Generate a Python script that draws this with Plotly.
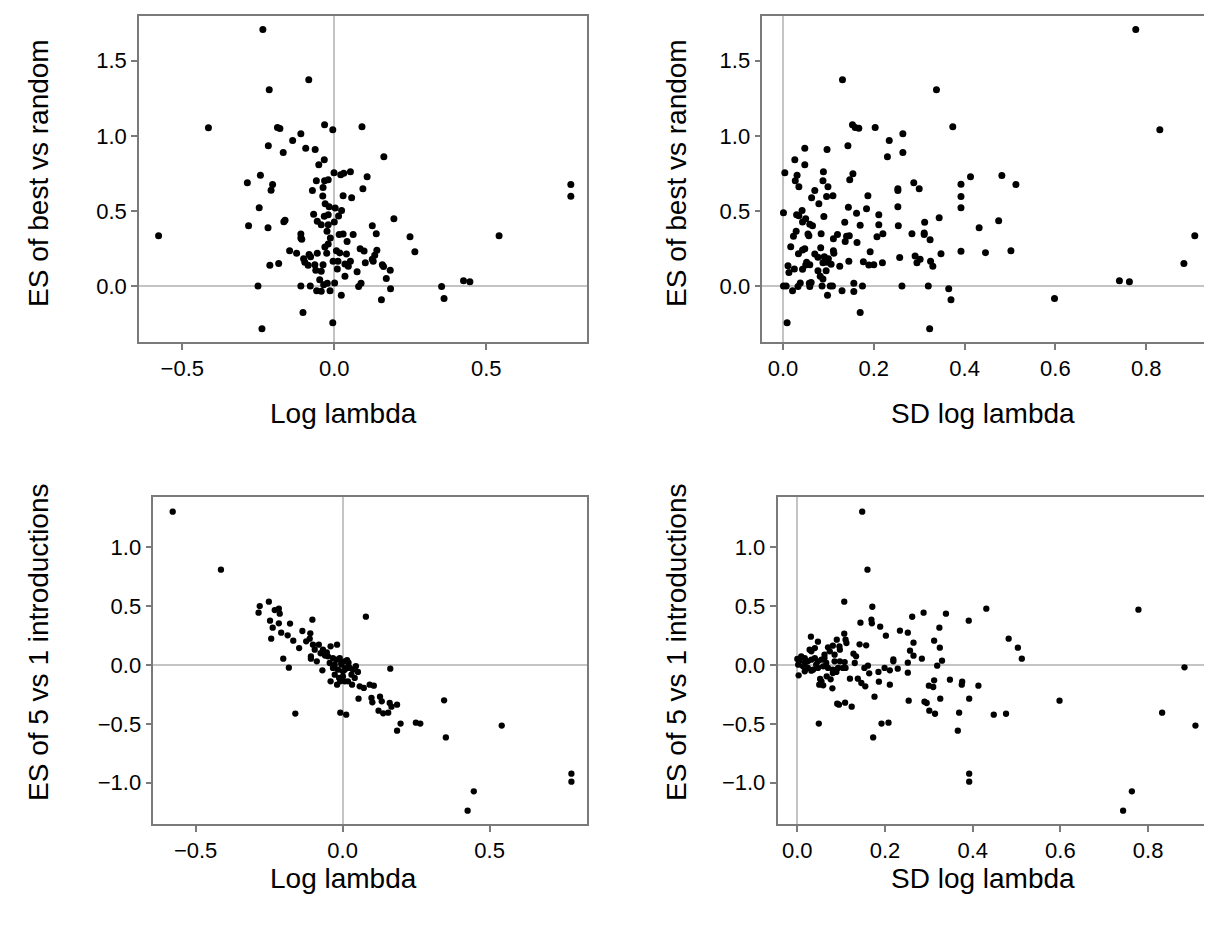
import plotly.graph_objects as go

W, H = 1212, 930

# ---------------- data ----------------
# Panel 1: Log lambda vs ES of best vs random
p1_log_lambda = [
    -0.235, -0.084, -0.214, -0.414, -0.187, -0.179, -0.032, -0.005, -0.110, -0.137,
    -0.217, -0.094, -0.063, -0.168, -0.033, -0.051, -0.001, 0.021, 0.031, -0.243,
    -0.286, -0.059, -0.032, -0.020, -0.203, -0.208, -0.072, -0.037, -0.038, 0.029,
    -0.030, -0.017, -0.247, 0.003, 0.024, 0.014, -0.068, -0.033, -0.020, -0.056,
    -0.043, -0.020, 0.000, -0.166, -0.162, -0.282, -0.218, -0.024, 0.016, 0.029,
    0.042, -0.110, -0.110, -0.107, -0.013, -0.020, -0.031, 0.007, 0.018, -0.147,
    -0.124, -0.083, -0.078, -0.056, -0.025, 0.040, -0.101, -0.097, -0.086, -0.212,
    -0.183, -0.064, -0.061, -0.037, -0.043, -0.004, 0.012, 0.010, 0.035, 0.035,
    -0.048, -0.035, -0.023, 0.001, -0.251, -0.110, -0.079, -0.058, -0.043, -0.014,
    0.023, -0.103, -0.005, -0.238, -0.578,
    0.091, 0.163, 0.053, 0.108, 0.094, 0.057, 0.196, 0.125, 0.138, 0.062,
    0.249, 0.542, 0.085, 0.098, 0.140, 0.133, 0.125, 0.128, 0.265, 0.053,
    0.046, 0.102, 0.158, 0.162, 0.184, 0.075, 0.171, 0.088, 0.080, 0.185,
    0.155, 0.353, 0.361, 0.425, 0.446, 0.778, 0.778,
]
p1_es_best = [
    1.707, 1.374, 1.307, 1.054, 1.055, 1.049, 1.074, 1.041, 1.014, 0.968,
    0.934, 0.917, 0.908, 0.888, 0.841, 0.808, 0.754, 0.741, 0.750, 0.737,
    0.688, 0.701, 0.701, 0.708, 0.675, 0.637, 0.635, 0.655, 0.599, 0.601,
    0.548, 0.528, 0.521, 0.519, 0.502, 0.466, 0.477, 0.464, 0.475, 0.431,
    0.408, 0.408, 0.426, 0.428, 0.437, 0.401, 0.388, 0.364, 0.342, 0.346,
    0.297, 0.346, 0.320, 0.311, 0.320, 0.280, 0.260, 0.235, 0.220, 0.235,
    0.218, 0.209, 0.195, 0.218, 0.218, 0.213, 0.182, 0.158, 0.138, 0.138,
    0.149, 0.142, 0.104, 0.142, 0.098, 0.164, 0.164, 0.113, 0.146, 0.064,
    0.042, 0.009, 0.018, 0.020, 0.000, 0.000, 0.000, -0.031, -0.035, -0.031,
    -0.062, -0.177, -0.244, -0.284, 0.335,
    1.061, 0.861, 0.761, 0.728, 0.648, 0.588, 0.448, 0.401, 0.348, 0.342,
    0.328, 0.335, 0.248, 0.233, 0.238, 0.204, 0.178, 0.164, 0.228, 0.164,
    0.131, 0.155, 0.142, 0.129, 0.104, 0.095, 0.049, 0.018, -0.004, -0.018,
    -0.091, -0.004, -0.084, 0.035, 0.029, 0.675, 0.597,
]

# Panel 2: SD log lambda vs ES of best vs random
p2_sd_log_lambda = [
    0.131, 0.338, 0.153, 0.159, 0.167, 0.203, 0.374, 0.264, 0.234, 0.143,
    0.048, 0.097, 0.264, 0.230, 0.026, 0.048, 0.004, 0.089, 0.154, 0.031,
    0.147, 0.413, 0.027, 0.088, 0.035, 0.099, 0.288, 0.300, 0.392, 0.253,
    0.253, 0.070, 0.096, 0.110, 0.063, 0.187, 0.392, 0.079, 0.144, 0.253,
    0.184, 0.392, 0.001, 0.042, 0.030, 0.035, 0.162, 0.211, 0.090, 0.344,
    0.050, 0.043, 0.136, 0.059, 0.065, 0.170, 0.211, 0.254, 0.312, 0.432,
    0.029, 0.023, 0.055, 0.057, 0.084, 0.120, 0.111, 0.140, 0.146, 0.137,
    0.220, 0.207, 0.163, 0.284, 0.311, 0.311, 0.324, 0.017, 0.048, 0.043,
    0.034, 0.083, 0.111, 0.112, 0.070, 0.077, 0.091, 0.192, 0.093, 0.100,
    0.088, 0.097, 0.106, 0.052, 0.059, 0.050, 0.043, 0.025, 0.011, 0.013,
    0.125, 0.145, 0.177, 0.189, 0.200, 0.219, 0.257, 0.291, 0.295, 0.302,
    0.325, 0.330, 0.348, 0.392, 0.446, 0.077, 0.082, 0.088, 0.095, 0.038,
    0.058, 0.062, 0.001, 0.007, 0.021, 0.033, 0.059, 0.086, 0.104, 0.109,
    0.098, 0.130, 0.156, 0.156, 0.175, 0.262, 0.320, 0.365, 0.370, 0.170,
    0.009, 0.323,
    0.777, 0.830, 0.482, 0.513, 0.475, 0.502, 0.598, 0.741, 0.763, 0.883, 0.907,
]
p2_es_best = [
    1.374, 1.307, 1.074, 1.056, 1.050, 1.056, 1.061, 1.014, 0.968, 0.934,
    0.917, 0.908, 0.888, 0.861, 0.841, 0.808, 0.754, 0.761, 0.748, 0.737,
    0.708, 0.728, 0.701, 0.701, 0.661, 0.661, 0.688, 0.648, 0.677, 0.648,
    0.635, 0.635, 0.595, 0.601, 0.588, 0.601, 0.595, 0.548, 0.524, 0.528,
    0.515, 0.521, 0.488, 0.502, 0.475, 0.468, 0.484, 0.475, 0.462, 0.455,
    0.448, 0.426, 0.424, 0.411, 0.401, 0.404, 0.408, 0.401, 0.424, 0.388,
    0.364, 0.331, 0.346, 0.335, 0.348, 0.342, 0.315, 0.331, 0.335, 0.297,
    0.348, 0.328, 0.289, 0.348, 0.353, 0.342, 0.308, 0.262, 0.248, 0.240,
    0.215, 0.255, 0.235, 0.218, 0.213, 0.191, 0.195, 0.228, 0.173, 0.182,
    0.155, 0.158, 0.145, 0.158, 0.142, 0.140, 0.111, 0.113, 0.135, 0.089,
    0.131, 0.164, 0.162, 0.140, 0.142, 0.155, 0.189, 0.200, 0.155, 0.178,
    0.164, 0.131, 0.215, 0.231, 0.222, 0.102, 0.064, 0.047, 0.102, 0.020,
    0.018, 0.024, 0.000, 0.000, -0.031, -0.004, -0.004, 0.000, 0.000, 0.000,
    -0.062, -0.031, 0.018, -0.036, 0.000, 0.000, 0.000, -0.018, -0.091, -0.177,
    -0.244, -0.284,
    1.707, 1.041, 0.735, 0.675, 0.435, 0.235, -0.084, 0.035, 0.029, 0.149, 0.335,
]

# Panel 3: Log lambda vs ES of 5 vs 1 introductions
p3_log_lambda = [
    -0.578, -0.414, -0.251, -0.282, -0.286, -0.231, -0.217, -0.214, -0.247, -0.238,
    -0.243, -0.217, -0.209, -0.179, -0.187, -0.168, -0.148, -0.137, -0.103, -0.110,
    -0.124, -0.112, -0.202, -0.183, -0.161, -0.108, -0.108, -0.088, -0.101, -0.095,
    -0.081, -0.067, -0.054, -0.041, -0.019, -0.069, -0.041, -0.019, -0.008, -0.008,
    0.012,
    -0.050, -0.033, -0.022, -0.044, -0.027, -0.005, 0.007, -0.033, -0.016, 0.001,
    0.012, -0.027, 0.001, 0.007, -0.075, -0.060, 0.020, 0.045, -0.012,
    0.079, 0.015, -0.010, -0.004, 0.007, 0.024, 0.035, 0.052, 0.030, 0.041,
    0.018, 0.032, 0.058, 0.072, 0.092, 0.106, 0.162, 0.054, 0.098, 0.101,
    0.127, 0.133, 0.160, 0.166, 0.185, 0.122, 0.138, 0.155, 0.197, 0.185,
    0.249, 0.264, 0.345, 0.351, 0.541, 0.446,
    0.425, 0.778, 0.778,
]
p3_es_5v1 = [
    1.303, 0.810, 0.538, 0.501, 0.445, 0.467, 0.479, 0.436, 0.377, 0.317,
    0.224, 0.354, 0.275, 0.352, 0.252, 0.207, 0.144, 0.289, 0.385, 0.269,
    0.201, 0.224, 0.054, -0.023, -0.413, 0.074, 0.054, 0.031, 0.173, 0.130,
    0.173, 0.130, 0.108, 0.159, 0.173, -0.045, -0.139, -0.167, -0.139, -0.405,
    -0.422,
    0.074, 0.059, 0.045, 0.017, 0.003, 0.017, 0.031, -0.025, -0.040, -0.054,
    -0.025, -0.082, -0.096, -0.139, 0.100, 0.080, 0.020, -0.010, -0.110,
    0.411, 0.042, 0.059, 0.003, -0.040, -0.025, -0.040, -0.059, -0.082, -0.110,
    -0.139, -0.167, -0.181, -0.195, -0.167, -0.176, -0.031, -0.286, -0.280, -0.317,
    -0.269, -0.309, -0.323, -0.354, -0.337, -0.388, -0.411, -0.405, -0.498, -0.558,
    -0.490, -0.498, -0.300, -0.615, -0.515, -1.073,
    -1.238, -0.923, -0.991,
]

# Panel 4: SD log lambda vs ES of 5 vs 1 introductions
p4_sd_log_lambda = [
    0.148, 0.160, 0.107, 0.171, 0.262, 0.288, 0.339, 0.391, 0.431, 0.144,
    0.169, 0.170, 0.189, 0.234, 0.252, 0.202, 0.324, 0.312, 0.265, 0.257,
    0.265, 0.325, 0.284, 0.330, 0.319, 0.031, 0.047, 0.107, 0.090, 0.110,
    0.112, 0.070, 0.081, 0.096, 0.142, 0.157, 0.128, 0.134, 0.219, 0.219,
    0.252, 0.252, 0.161, 0.164, 0.153, 0.185, 0.199, 0.211, 0.229, 0.186,
    0.211, 0.138, 0.146, 0.155, 0.120, 0.176, 0.254, 0.290, 0.295, 0.301,
    0.314, 0.300, 0.310, 0.312, 0.326, 0.348, 0.376, 0.375, 0.413, 0.392,
    0.369, 0.366, 0.392, 0.392, 0.192, 0.208, 0.173, 0.049, 0.091, 0.095,
    0.109, 0.124, 0.003, 0.050, 0.059, 0.052, 0.055, 0.080, 0.076, 0.067,
    0.000, 0.005, 0.009, 0.017, 0.024, 0.032, 0.040, 0.047, 0.055, 0.062,
    0.002, 0.013, 0.024, 0.036, 0.047, 0.059, 0.070, 0.081, 0.093, 0.104,
    0.017, 0.032, 0.081, 0.089, 0.097, 0.108, 0.085, 0.074, 0.062, 0.032,
    0.028, 0.040, 0.097, 0.085, 0.066, 0.043, 0.017, 0.131, 0.110,
    0.482, 0.503, 0.512, 0.448, 0.476, 0.598, 0.778, 0.763, 0.832, 0.883,
    0.908, 0.743,
]
p4_es_5v1 = [
    1.303, 0.810, 0.538, 0.495, 0.410, 0.445, 0.436, 0.377, 0.479, 0.360,
    0.385, 0.354, 0.326, 0.292, 0.275, 0.249, 0.317, 0.207, 0.190, 0.122,
    0.079, 0.147, 0.054, 0.037, -0.006, 0.241, 0.198, 0.266, 0.215, 0.215,
    0.187, 0.150, 0.164, 0.159, 0.176, 0.167, 0.096, 0.074, 0.048, 0.031,
    0.020, -0.065, -0.006, -0.071, -0.025, -0.059, -0.025, -0.045, -0.031, -0.142,
    -0.167, -0.116, -0.153, -0.181, -0.116, -0.269, -0.303, -0.312, -0.323, -0.388,
    -0.414, -0.176, -0.187, -0.130, -0.286, -0.125, -0.142, -0.167, -0.176, -0.286,
    -0.405, -0.558, -0.923, -0.991, -0.498, -0.490, -0.615, -0.498, -0.329, -0.337,
    -0.320, -0.354, -0.088, -0.167, -0.173, -0.119, -0.139, -0.198, -0.122, -0.096,
    0.051, 0.037, 0.074, 0.059, 0.031, 0.045, 0.059, 0.031, 0.045, 0.059,
    0.003, -0.011, -0.025, -0.040, -0.025, -0.011, -0.025, -0.040, -0.025, -0.025,
    -0.054, -0.048, -0.068, -0.059, 0.031, 0.025, 0.088, 0.116, 0.088, 0.116,
    0.130, 0.144, 0.130, 0.031, 0.017, 0.003, 0.017, 0.017, -0.025,
    0.224, 0.147, 0.054, -0.422, -0.414, -0.303, 0.470, -1.073, -0.405, -0.020,
    -0.515, -1.238,
]

x_title_left = "Log lambda"
x_title_right = "SD log lambda"
y_title_top = "ES of best vs random"
y_title_bottom = "ES of 5 vs 1 introductions"

ticks_log = [-0.5, 0.0, 0.5]
ticks_sd = [0.0, 0.2, 0.4, 0.6, 0.8]
ticks_es_best = [0.0, 0.5, 1.0, 1.5]
ticks_es_5v1 = [-1.0, -0.5, 0.0, 0.5, 1.0]

# ---------------- layout geometry (pixels) ----------------
FRAME = "#7a7a7a"
REF = "#c4c4c4"
FONT = "Liberation Sans, Arial, Helvetica, sans-serif"
TICK_SIZE = 22
TITLE_SIZE = 28


def px_x(p):
    return p / W


def px_y(p):
    return 1 - p / H


panels = [
    # data x, data y, x px span, y px span, x range, y range, x ticks, y ticks, marker size
    (p1_log_lambda, p1_es_best, (131, 579), (8.4, 334.3), [-0.6424, 0.8312], [-0.375, 1.795], ticks_log, ticks_es_best, 7),
    (p2_sd_log_lambda, p2_es_best, (754.3, 1203), (8.4, 334.3), [-0.0456, 0.9427], [-0.375, 1.795], ticks_sd, ticks_es_best, 7),
    (p3_log_lambda, p3_es_5v1, (145.3, 579), (489.3, 816), [-0.644, 0.831], [-1.351, 1.425], ticks_log, ticks_es_5v1, 6.3),
    (p4_sd_log_lambda, p4_es_5v1, (769.5, 1203.5), (489.3, 816), [-0.0452, 0.9446], [-1.351, 1.425], ticks_sd, ticks_es_5v1, 6.3),
]

fig = go.Figure()
layout = dict(
    width=W, height=H,
    margin=dict(l=0, r=0, t=0, b=0),
    paper_bgcolor="white", plot_bgcolor="white",
    showlegend=False,
    font=dict(family=FONT, color="black", size=TICK_SIZE),
)

for i, (xs, ys, xspan, yspan, xr, yr, xt, yt, msize) in enumerate(panels, start=1):
    sfx = "" if i == 1 else str(i)
    fig.add_trace(go.Scatter(
        x=xs, y=ys, mode="markers",
        marker=dict(color="black", size=msize, line=dict(width=0)),
        xaxis="x" + sfx, yaxis="y" + sfx, hoverinfo="skip",
    ))
    common = dict(
        showline=True, mirror=True, linecolor=FRAME, linewidth=1.5,
        ticks="outside", ticklen=6, tickwidth=1.5, tickcolor=FRAME,
        showgrid=False, zeroline=True, zerolinecolor=REF, zerolinewidth=1.6,
        tickfont=dict(family=FONT, size=TICK_SIZE, color="black"),
        tickformat=".1f", tickmode="array",
    )
    layout["xaxis" + sfx] = dict(
        common, domain=[px_x(xspan[0]), px_x(xspan[1])], range=xr, tickvals=xt,
        anchor="y" + sfx,
    )
    layout["yaxis" + sfx] = dict(
        common, domain=[px_y(yspan[1]), px_y(yspan[0])], range=yr, tickvals=yt,
        anchor="x" + sfx,
    )

fig.update_layout(**layout)

annots = [
    (x_title_left, 335, 405, 0),
    (x_title_right, 975, 405, 0),
    (x_title_left, 335, 870, 0),
    (x_title_right, 975, 870, 0),
    (y_title_top, 30, 165, -90),
    (y_title_top, 668, 165, -90),
    (y_title_bottom, 30, 634, -90),
    (y_title_bottom, 668, 634, -90),
]
for text, ax_, ay_, ang in annots:
    fig.add_annotation(
        text=text, x=px_x(ax_), y=px_y(ay_), xref="paper", yref="paper",
        showarrow=False, textangle=ang, xanchor="center", yanchor="middle",
        font=dict(family=FONT, size=TITLE_SIZE, color="black"),
    )

fig.write_html("out.html")
